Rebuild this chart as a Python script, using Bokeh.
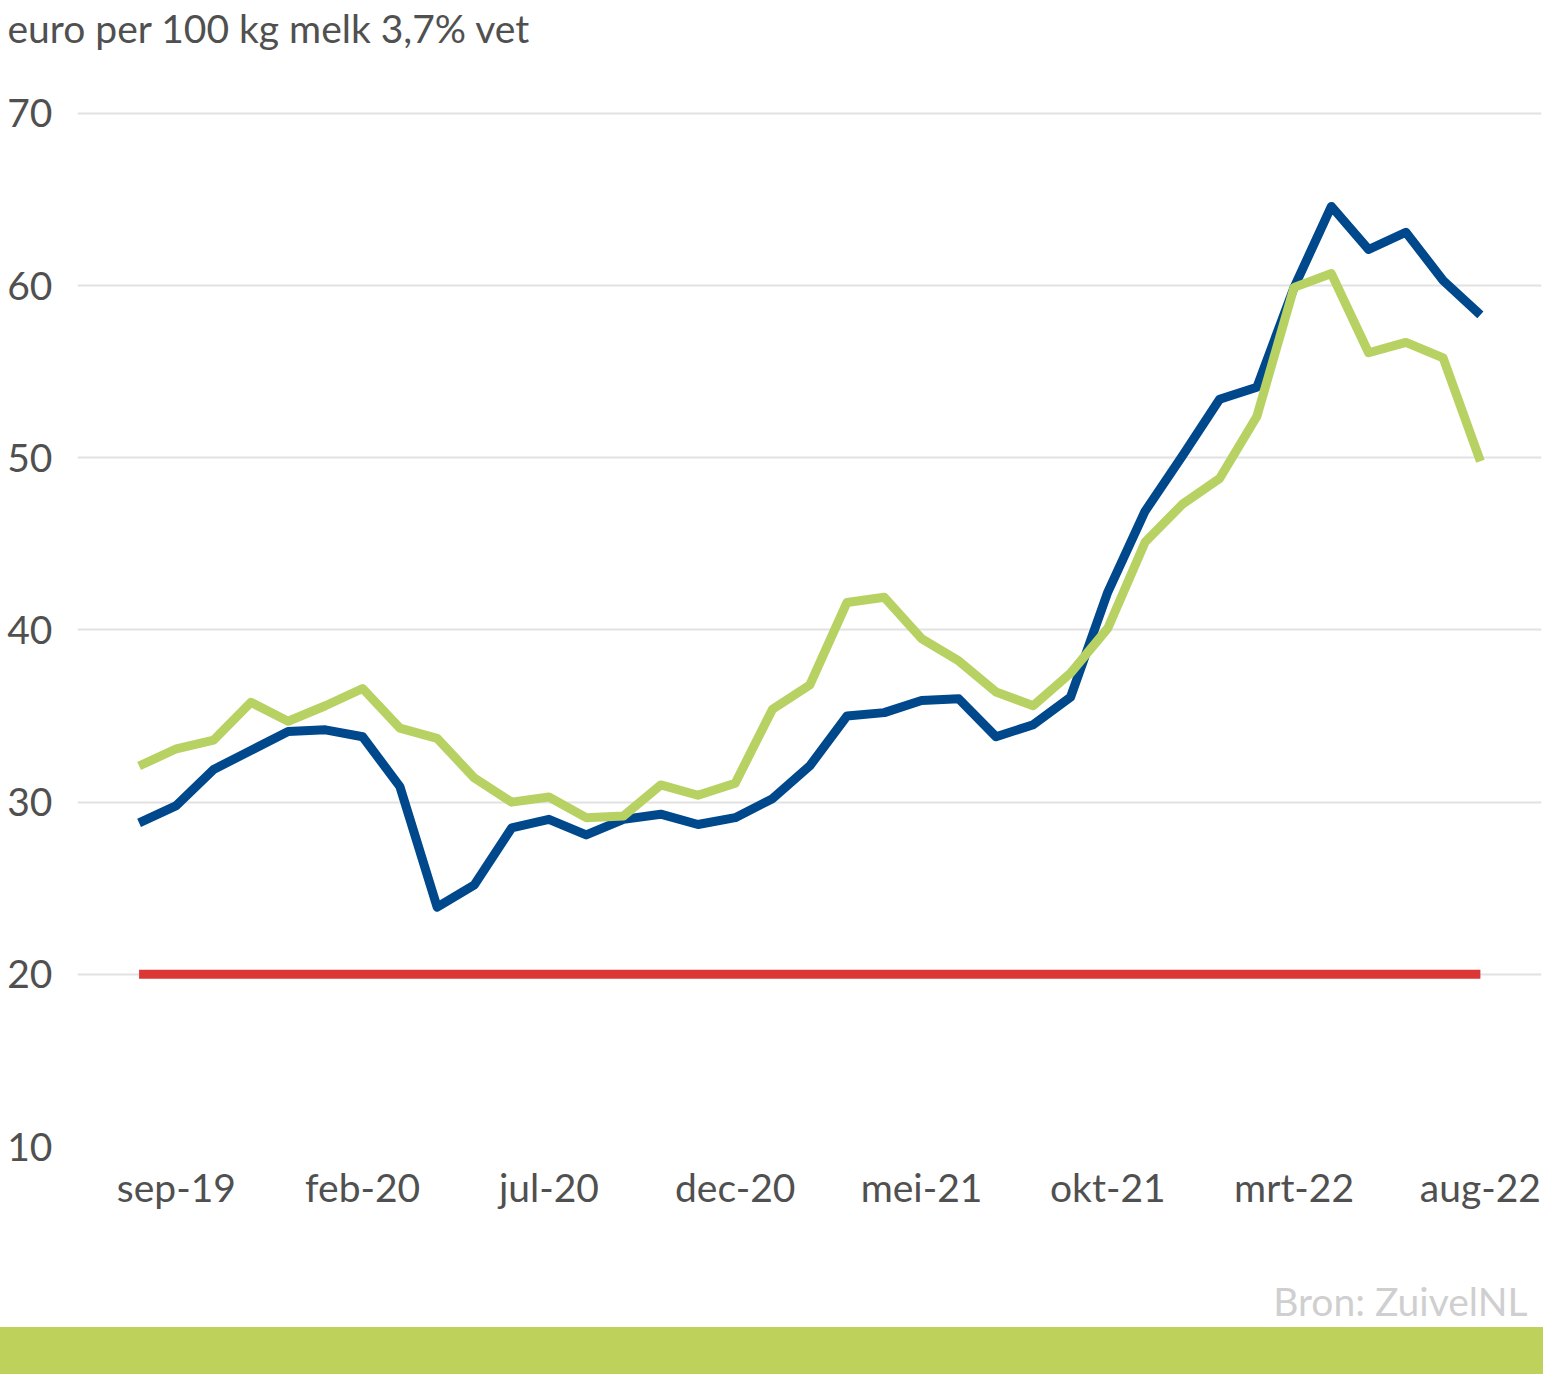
from bokeh.plotting import figure
from bokeh.models import Range1d, FixedTicker, Div
from bokeh.layouts import column
from bokeh.core.properties import value
from bokeh.embed import file_html
from bokeh.resources import INLINE

months = ["aug-19", "sep-19", "okt-19", "nov-19", "dec-19", "jan-20", "feb-20", "mrt-20",
          "apr-20", "mei-20", "jun-20", "jul-20", "aug-20", "sep-20", "okt-20", "nov-20",
          "dec-20", "jan-21", "feb-21", "mrt-21", "apr-21", "mei-21", "jun-21", "jul-21",
          "aug-21", "sep-21", "okt-21", "nov-21", "dec-21", "jan-22", "feb-22", "mrt-22",
          "apr-22", "mei-22", "jun-22", "jul-22", "aug-22"]

blue_series = [28.8, 29.8, 31.9, 33.0, 34.1, 34.2, 33.8, 30.9, 23.9, 25.2,
               28.5, 29.0, 28.1, 29.0, 29.3, 28.7, 29.1, 30.2, 32.1, 35.0,
               35.2, 35.9, 36.0, 33.8, 34.5, 36.1, 42.2, 46.9, 50.1, 53.4,
               54.1, 59.9, 64.6, 62.1, 63.1, 60.3, 58.3]

green_series = [32.1, 33.1, 33.6, 35.8, 34.7, 35.6, 36.6, 34.3, 33.7, 31.4,
                30.0, 30.3, 29.1, 29.2, 31.0, 30.4, 31.1, 35.4, 36.8, 41.6,
                41.9, 39.5, 38.2, 36.4, 35.6, 37.5, 40.1, 45.1, 47.3, 48.8,
                52.4, 59.9, 60.7, 56.1, 56.7, 55.8, 49.8]

red_series = [20, 20, 20, 20, 20, 20, 20, 20, 20, 20,
              20, 20, 20, 20, 20, 20, 20, 20, 20, 20,
              20, 20, 20, 20, 20, 20, 20, 20, 20, 20,
              20, 20, 20, 20, 20, 20, 20]

x_tick_labels = ["sep-19", "feb-20", "jul-20", "dec-20", "mei-21", "okt-21", "mrt-22", "aug-22"]
y_ticks = [10, 20, 30, 40, 50, 60, 70]

title_text = "euro per 100 kg melk 3,7% vet"
source_text = "Bron:  ZuivelNL"

FONT = "Lato"
TEXT_COLOR = "#505050"
W = 1543
BL, BR = 77, 2

x = list(range(len(months)))
tick_pos = [months.index(m) for m in x_tick_labels]

# ---- main chart ----
p = figure(width=W, height=1240,
           x_range=Range1d(-1.653, 37.64), y_range=Range1d(10, 73.54),
           output_backend="svg", toolbar_location=None,
           min_border_left=BL, min_border_right=BR,
           min_border_top=51, min_border_bottom=94)
p.outline_line_color = None
p.background_fill_color = "white"
p.border_fill_color = "white"

p.title.text = title_text
p.title.align = "left"
p.title.offset = -70
p.title.standoff = 4
p.title.text_font = FONT
p.title.text_font_size = "39px"
p.title.text_font_style = "normal"
p.title.text_color = TEXT_COLOR

p.line(x, red_series, line_color="#db3737", line_width=9)
p.line(x, blue_series, line_color="#00488c", line_width=9, line_join="round")
p.line(x, green_series, line_color="#b7d262", line_width=9, line_join="round")

p.xgrid.visible = False
p.ygrid.grid_line_color = "#e2e2e2"
p.ygrid.grid_line_width = 2
p.yaxis.ticker = FixedTicker(ticks=y_ticks)
p.xaxis.ticker = FixedTicker(ticks=tick_pos)
p.xaxis.major_label_overrides = {i: lab for i, lab in zip(tick_pos, x_tick_labels)}

for ax in (p.xaxis[0], p.yaxis[0]):
    ax.axis_line_color = None
    ax.major_tick_line_color = None
    ax.minor_tick_line_color = None
    ax.major_tick_out = 0
    ax.major_tick_in = 0
    ax.major_label_text_font = FONT
    ax.major_label_text_font_size = "39px"
    ax.major_label_text_color = TEXT_COLOR

p.yaxis.major_label_standoff = 25
p.xaxis.major_label_standoff = 17

# ---- source note (frame aligned with the main chart) ----
SH = 87
FW = W - BL - BR
f = figure(width=W, height=SH, x_range=Range1d(0, FW), y_range=Range1d(0, SH),
           x_axis_type=None, y_axis_type=None,
           min_border_left=BL, min_border_right=BR,
           min_border_top=0, min_border_bottom=0,
           output_backend="svg", toolbar_location=None)
f.outline_line_color = None
f.background_fill_color = "white"
f.border_fill_color = "white"
f.text(x=[FW - 4], y=[27], text=[source_text], text_font=value(FONT),
       text_font_size="39px", text_color="#cfcfcf",
       text_align="right", text_baseline="alphabetic")

# ---- green band at the bottom ----
band = Div(text="", width=W, height=47, margin=0,
           styles={"background-color": "#bdd15b"})

layout = column(p, f, band, spacing=0)
open("out.html", "w").write(file_html(layout, INLINE))
